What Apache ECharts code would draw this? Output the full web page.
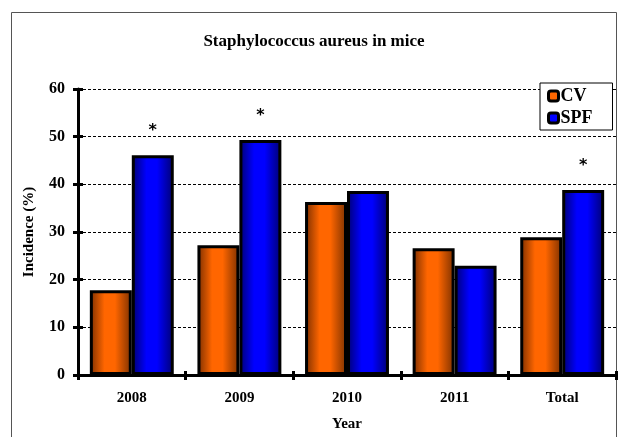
<!DOCTYPE html>
<html>
<head>
<meta charset="utf-8">
<script src="https://cdn.jsdelivr.net/npm/echarts@6/dist/echarts.min.js"></script>
<style>html,body{margin:0;padding:0;background:#fff}#c{width:628px;height:437px}</style>
</head>
<body>
<div id="c"></div>
<script>
var categories = ['2008', '2009', '2010', '2011', 'Total'];
var cvValues = [17.8, 27.2, 36.3, 26.6, 28.9];
var spfValues = [46.1, 49.3, 38.6, 22.9, 38.8];
var spfSignificant = [true, true, false, false, true];
var yTicks = [0, 10, 20, 30, 40, 50, 60];

var FONT = '"Liberation Serif", "DejaVu Serif", serif';
function grad(dark, bright, dark2) {
  return new echarts.graphic.LinearGradient(0, 0, 1, 0, [
    {offset: 0, color: dark},
    {offset: 0.35, color: bright},
    {offset: 0.6, color: bright},
    {offset: 1, color: dark2}
  ]);
}
var chart = echarts.init(document.getElementById('c'), null, {renderer: 'canvas'});
var option = {
  animation: false,
  backgroundColor: '#fff',
  title: {
    text: 'Staphylococcus aureus in mice',
    left: 'center', top: 28,
    textStyle: {fontFamily: FONT, fontWeight: 'bold', fontSize: 17, color: '#000'}
  },
  graphic: [{
    type: 'rect', shape: {x: 11.5, y: 12.5, width: 605, height: 440},
    style: {fill: 'none', stroke: '#555', lineWidth: 1}, silent: true, z: -1
  }],
  legend: {
    left: 540, top: 83, orient: 'vertical',
    itemWidth: 10, itemHeight: 10, itemGap: 4,
    padding: [4, 20, 3, 7],
    borderColor: '#000', borderWidth: 1,
    backgroundColor: '#fff',
    textStyle: {fontFamily: FONT, fontSize: 18, fontWeight: 'bold', color: '#000', padding: [0, 0, 0, -3]},
    data: [
      {name: 'CV', itemStyle: {color: '#ff6600', borderColor: '#000', borderWidth: 3}},
      {name: 'SPF', itemStyle: {color: '#0000ff', borderColor: '#000', borderWidth: 3}}
    ]
  },
  grid: {left: 78, right: 12, top: 89, bottom: 62},
  xAxis: [{
    type: 'category', data: categories,
    name: 'Year', nameLocation: 'middle', nameGap: 42,
    nameTextStyle: {fontFamily: FONT, fontWeight: 'bold', fontSize: 15, color: '#000'},
    axisLine: {lineStyle: {color: '#000', width: 3}},
    axisTick: {show: true, length: 5, lineStyle: {color: '#000', width: 3}},
    axisLabel: {fontFamily: FONT, fontWeight: 'bold', fontSize: 15, color: '#000', margin: 16}
  }, {
    type: 'category', data: categories, position: 'bottom',
    axisLine: {show: false},
    axisTick: {show: true, inside: true, length: 4, lineStyle: {color: '#000', width: 3}},
    axisLabel: {show: false}
  }],
  yAxis: [{
    type: 'value', min: 0, max: 60, interval: 10,
    name: 'Incidence (%)', nameLocation: 'middle', nameGap: 41,
    nameTextStyle: {fontFamily: FONT, fontWeight: 'bold', fontSize: 15, color: '#000'},
    axisLine: {show: true, lineStyle: {color: '#000', width: 3}},
    axisTick: {show: true, length: 5, lineStyle: {color: '#000', width: 3}},
    axisLabel: {fontFamily: FONT, fontWeight: 'bold', fontSize: 16, color: '#000', margin: 13,
      formatter: function (v) { return yTicks.indexOf(v) >= 0 ? String(v) : ''; }},
    splitLine: {show: true, lineStyle: {color: '#000', type: [3, 2], width: 1}}
  }, {
    type: 'value', min: 0, max: 60, interval: 10, position: 'left',
    axisLine: {show: false},
    axisTick: {show: true, inside: true, length: 5, lineStyle: {color: '#000', width: 3}},
    axisLabel: {show: false},
    splitLine: {show: false}
  }],
  series: [{
    name: 'CV', type: 'bar', data: cvValues,
    barGap: '0%', barCategoryGap: '22%',
    itemStyle: {color: grad('#7a2e00', '#ff6600', '#7a3000'), borderColor: '#000', borderWidth: 3}
  }, {
    name: 'SPF', type: 'bar',
    data: spfValues.map(function (v, i) {
      return {value: v, label: {show: spfSignificant[i]}};
    }),
    barGap: '0%', barCategoryGap: '22%',
    label: {show: false, position: 'top', formatter: '*', distance: 16,
      fontFamily: '"DejaVu Sans", sans-serif', fontWeight: 'bold', fontSize: 16, color: '#000'},
    itemStyle: {color: grad('#000070', '#0000ff', '#000070'), borderColor: '#000', borderWidth: 3}
  }]
};
chart.setOption(option);
</script>
</body>
</html>
